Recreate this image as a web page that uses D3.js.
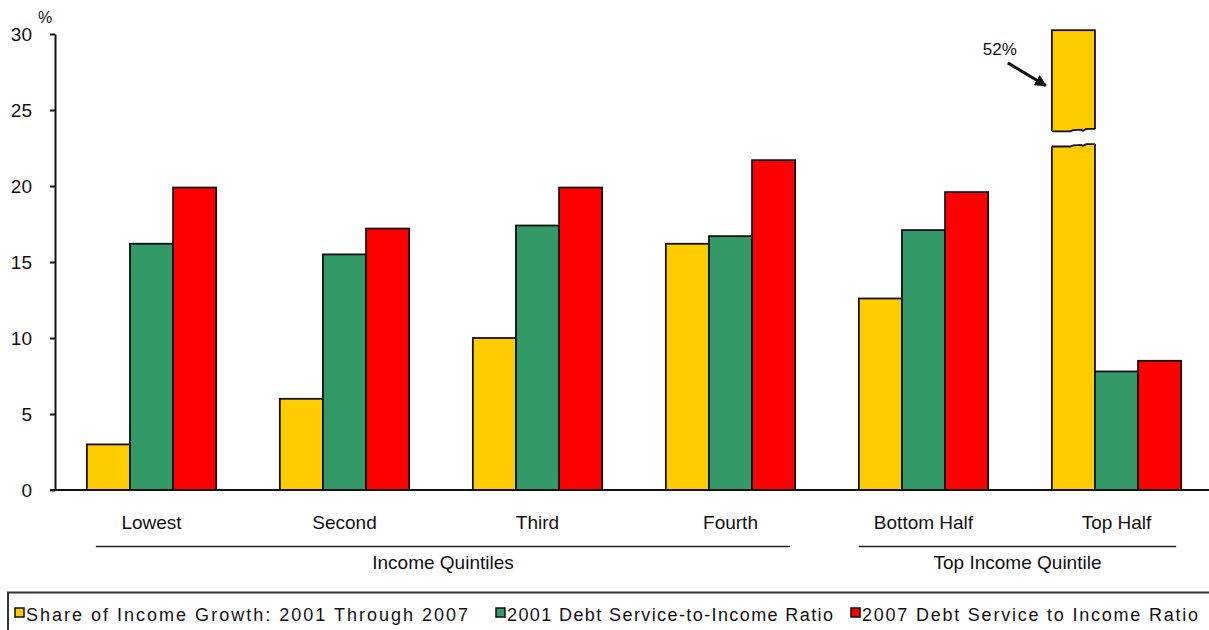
<!DOCTYPE html>
<html>
<head>
<meta charset="utf-8">
<script src="https://cdn.jsdelivr.net/npm/d3@7"></script>
<style>
  body { margin: 0; background: #fff; }
  svg text { font-family: "Liberation Sans", Arial, sans-serif; fill: #111; }
</style>
</head>
<body>
<div id="chart"></div>
<script>
var width = 1209,
    height = 630;

// data
var categories = ["Lowest", "Second", "Third", "Fourth", "Bottom Half", "Top Half"];
var seriesNames = ["Share of Income Growth: 2001 Through 2007",
                   "2001 Debt Service-to-Income Ratio",
                   "2007 Debt Service to Income Ratio"];
var shareGrowth = [3.0, 6.0, 10.0, 16.2, 12.6, 52];
var dsr2001 = [16.2, 15.5, 17.4, 16.7, 17.1, 7.8];
var dsr2007 = [19.9, 17.2, 19.9, 21.7, 19.6, 8.5];
var yTicks = [0, 5, 10, 15, 20, 25, 30];
var groupNames = ["Income Quintiles", "Top Income Quintile"];
var groupMembers = [["Lowest", "Fourth"], ["Bottom Half", "Top Half"]];
var colors = ["#ffcc00", "#339966", "#ff0000"];
var yMaxShown = 30.25;        // bars taller than this get a break
var breakRange = [22.6, 23.6]; // values where the broken bar is cut

var series = [shareGrowth, dsr2001, dsr2007];

var svg = d3.select("#chart").append("svg")
  .attr("width", width)
  .attr("height", height);

var x = d3.scaleBand()
  .domain(categories)
  .range([55, 1213])
  .paddingInner(0.33)
  .paddingOuter(0.165);

var xInner = d3.scaleBand()
  .domain(d3.range(series.length))
  .range([0, x.bandwidth()]);

var y = d3.scaleLinear()
  .domain([0, 30])
  .range([490, 34]);

//y axis
var yAxis = svg.append("g")
  .attr("transform", "translate(55,0)")
  .call(d3.axisLeft(y).tickValues(yTicks).tickSize(5).tickSizeOuter(0).tickPadding(18));
yAxis.select(".domain").attr("stroke", "#111").attr("stroke-width", 2);
yAxis.selectAll(".tick line").attr("stroke", "#111").attr("stroke-width", 2);
yAxis.selectAll(".tick text")
  .style("font-family", "'Liberation Sans', Arial, sans-serif")
  .style("font-size", "19px")
  .attr("fill", "#111");

svg.append("text")
  .attr("x", 45).attr("y", 23)
  .attr("text-anchor", "middle")
  .style("font-size", "16px")
  .text("%");

// bars
var barData = [];
categories.forEach(function(c, i) {
  series.forEach(function(s, j) {
    barData.push({cat: c, s: j, value: s[i]});
  });
});

svg.append("g").selectAll("rect")
  .data(barData)
  .enter()
  .append("rect")
  .attr("x", function(d) { return x(d.cat) + xInner(d.s); })
  .attr("width", xInner.bandwidth())
  .attr("y", function(d) { return y(Math.min(d.value, yMaxShown)); })
  .attr("height", function(d) { return y(0) - y(Math.min(d.value, yMaxShown)); })
  .attr("fill", function(d) { return colors[d.s]; })
  .attr("stroke", "#111")
  .attr("stroke-width", 1.8);

// break on the tall bar
var broken = barData.filter(function(d) { return d.value > yMaxShown; });
var jag = [[0, 0], [0.42, 0], [0.5, -1.2], [0.68, -1.6], [0.72, -0.6], [0.8, -2.4], [1, -2.4]];
broken.forEach(function(d) {
  var bx = x(d.cat) + xInner(d.s), bw = xInner.bandwidth();
  var yTop = y(breakRange[1]), yBot = y(breakRange[0]);
  var top = jag.map(function(p) { return [bx + p[0] * bw, yTop + p[1]]; });
  var bot = jag.map(function(p) { return [bx + p[0] * bw, yBot + p[1]]; });
  var poly = [[bx - 4, yTop]].concat(top).concat([[bx + bw + 4, yTop - 2.4], [bx + bw + 4, yBot - 2.4]])
    .concat(bot.slice().reverse()).concat([[bx - 4, yBot]]);
  svg.append("path")
    .attr("d", d3.line()(poly) + "Z")
    .attr("fill", "#fff");
  [top, bot].forEach(function(edge) {
    svg.append("path")
      .attr("d", d3.line()(edge))
      .attr("fill", "none")
      .attr("stroke", "#111")
      .attr("stroke-width", 1.8);
  });

  // label + arrow
  svg.append("defs").append("marker")
    .attr("id", "arrow")
    .attr("viewBox", "0 0 10 10")
    .attr("refX", 9).attr("refY", 5)
    .attr("markerWidth", 4).attr("markerHeight", 4)
    .attr("orient", "auto")
    .append("path")
    .attr("d", "M0,0L10,5L0,10Z")
    .attr("fill", "#111");
  svg.append("line")
    .attr("x1", bx - 44).attr("y1", y(28.1))
    .attr("x2", bx - 6).attr("y2", y(26.6))
    .attr("stroke", "#111")
    .attr("stroke-width", 3)
    .attr("marker-end", "url(#arrow)");
  svg.append("text")
    .attr("x", bx - 35).attr("y", y(28.6))
    .attr("text-anchor", "end")
    .style("font-size", "17px")
    .text(d.value + "%");
});

// baseline
svg.append("line")
  .attr("x1", 50).attr("x2", width)
  .attr("y1", y(0)).attr("y2", y(0))
  .attr("stroke", "#111")
  .attr("stroke-width", 2);

// category labels
svg.append("g").selectAll("text")
  .data(categories)
  .enter()
  .append("text")
  .attr("x", function(d) { return x(d) + x.bandwidth() / 2; })
  .attr("y", 529)
  .attr("text-anchor", "middle")
  .style("font-size", "19px")
  .text(function(d) { return d; });

// group underlines + labels
groupNames.forEach(function(g, i) {
  var x0 = x(groupMembers[i][0]) + (i == 0 ? 9 : 0),
      x1 = x(groupMembers[i][1]) + x.bandwidth() - 5;
  svg.append("line")
    .attr("x1", x0).attr("x2", x1)
    .attr("y1", 546.5).attr("y2", 546.5)
    .attr("stroke", "#222")
    .attr("stroke-width", 1.5);
  svg.append("text")
    .attr("x", (x0 + x1) / 2)
    .attr("y", 569)
    .attr("text-anchor", "middle")
    .style("font-size", "19px")
    .text(g);
});

// legend
svg.append("path")
  .attr("d", "M8," + height + "L8,592.5L" + width + ",592.5")
  .attr("fill", "none")
  .attr("stroke", "#333")
  .attr("stroke-width", 2);

var legendX = [15, 496, 851],
    legendW = [442, 326, 336];
var legend = svg.append("g").selectAll("g")
  .data(seriesNames)
  .enter()
  .append("g")
  .attr("transform", function(d, i) { return "translate(" + legendX[i] + ",608)"; });
legend.append("rect")
  .attr("width", 9).attr("height", 9)
  .attr("fill", function(d, i) { return colors[i]; })
  .attr("stroke", "#111")
  .attr("stroke-width", 1.5);
legend.append("text")
  .attr("x", 11)
  .attr("y", 13)
  .style("font-size", "18px")
  .attr("textLength", function(d, i) { return legendW[i]; })
  .attr("lengthAdjust", "spacing")
  .text(function(d) { return d; });
</script>
</body>
</html>
